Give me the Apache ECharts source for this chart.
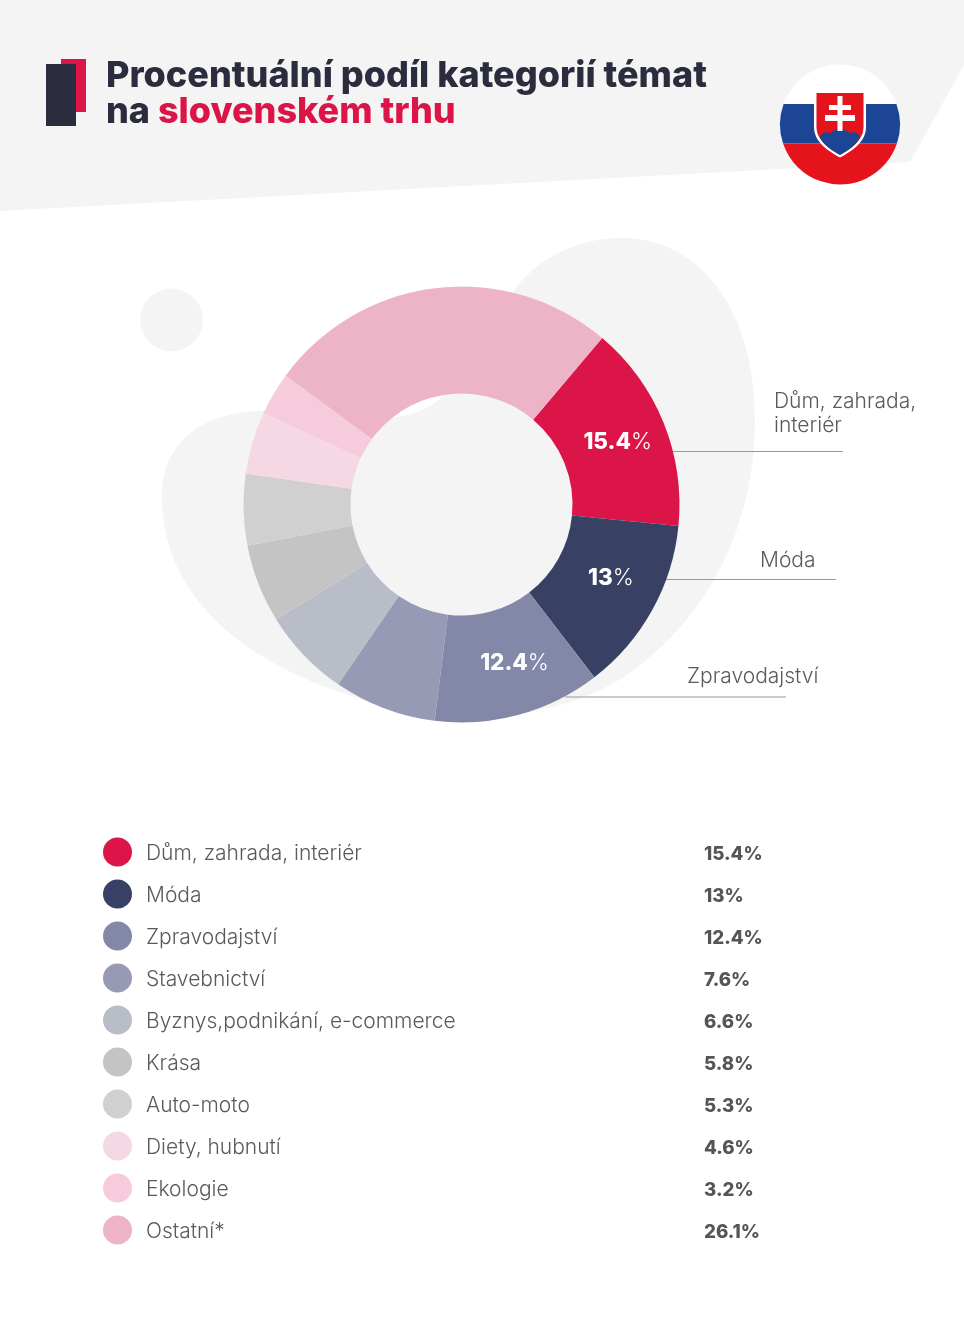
<!DOCTYPE html>
<html lang="cs"><head><meta charset="utf-8">
<style>html,body{margin:0;padding:0;background:#fff}#c{width:964px;height:1333px}</style>
<script src="https://cdn.jsdelivr.net/npm/echarts@6/dist/echarts.min.js"></script>
</head><body><div id="c"></div>
<script>
const categories = ['Dům, zahrada, interiér','Móda','Zpravodajství','Stavebnictví','Byznys,podnikání, e-commerce','Krása','Auto-moto','Diety, hubnutí','Ekologie','Ostatní*'];
const values = [15.4,13,12.4,7.6,6.6,5.8,5.3,4.6,3.2,26.1];
const colors = ['#dc1549','#384164','#8388a8','#969ab5','#b8bdc7','#c4c4c4','#d0d0d0','#f6d8e4','#f6ccdc','#edb3c7'];
const labelledCount = 3;
const labelNudge = [[1,1],[3,-8],[9,-3]];
const titleLine1 = 'Procentuální podíl kategorií témat';
const titleLine2a = 'na ';
const titleLine2b = 'slovenském trhu';
const FONT = 'Inter';

const chart = echarts.init(document.getElementById('c'), null, {renderer:'canvas'});
const valueOf = Object.fromEntries(categories.map((c,i)=>[c,values[i]]));

let pathId = 0;
function pathEl(d,fill,z){
  const name='p'+(pathId++);
  echarts.graphic.registerShape(name, echarts.graphic.extendPath(d,{}));
  return {type:name,z:z||0,style:{fill}};
}
function callout(text,x,y,x1,x2,ly){
  return [
    {type:'line',shape:{x1,y1:ly,x2,y2:ly},style:{stroke:'#9a9a9a',lineWidth:1}},
    {type:'text',x,y,style:{text,font:'300 21px '+FONT,fill:'#5a5a5a',textAlign:'left',lineHeight:24,textVerticalAlign:'top'}}
  ];
}

chart.setOption({
  animation:false,
  backgroundColor:'#fff',
  title:{
    left:106,top:58,padding:0,
    text:titleLine1+'\n'+titleLine2a+'{r|'+titleLine2b+'}',
    textStyle:{fontFamily:FONT,fontWeight:800,fontSize:36,lineHeight:36,color:'#2b2d3e',
      rich:{r:{fontFamily:FONT,fontWeight:800,fontSize:36,lineHeight:36,color:'#dc1549'}}}
  },
  legend:{
    orient:'vertical',left:103,top:837.5,padding:0,
    icon:'circle',itemWidth:29,itemHeight:29,itemGap:13,
    selectedMode:false,
    data:categories,
    formatter:n=>'{n|'+n+'}{v|'+valueOf[n]+'%}',
    textStyle:{rich:{
      n:{fontFamily:FONT,fontWeight:300,fontSize:21,color:'#5a5a5a',width:558,padding:[4,0,0,9]},
      v:{fontFamily:FONT,fontWeight:800,fontSize:18.7,color:'#555555',padding:[4,0,0,0]}
    }}
  },
  series:[{
    type:'pie',center:[461.5,504.5],radius:[111,218],startAngle:49.8,clockwise:true,
    label:{show:true,position:'inside',
      formatter:p=>p.dataIndex<labelledCount?'{b|'+p.value+'}{l|%}':'',
      rich:{
        b:{fontFamily:FONT,fontWeight:800,fontSize:22.5,color:'#fff'},
        l:{fontFamily:FONT,fontWeight:300,fontSize:22.5,color:'#fff'}
      }},
    labelLayout:p=>{const n=labelNudge[p.dataIndex];return n?{dx:n[0],dy:n[1]}:{};},
    labelLine:{show:false},
    emphasis:{disabled:true},
    itemStyle:{borderWidth:0},
    data:categories.map((name,i)=>({name,value:values[i],itemStyle:{color:colors[i]}}))
  }],
  graphic:[
    {type:'polygon',z:-10,shape:{points:[[0,0],[964,0],[964,65],[910,162],[0,211]]},style:{fill:'#f4f4f4'}},
    pathEl('M162,497 C162,440 205,411 265,411 C320,411 360,420 395,417 C412,416 430,408 442,397 C470,370 490,325 513,292 C535,260 575,238 622,238 C700,238 755,310 755,420 C755,530 705,615 640,665 C560,730 430,725 355,697 C250,665 162,600 162,497 Z','#f4f4f4',-10),
    {type:'circle',z:-10,shape:{cx:171.5,cy:320,r:31.5},style:{fill:'#f4f4f4'}},
    {type:'rect',z:-5,shape:{x:61,y:59,width:25,height:53},style:{fill:'#dc1549'}},
    {type:'rect',z:-4,shape:{x:46,y:64,width:30,height:62},style:{fill:'#2b2d3e'}},
    // flag
    pathEl('M783.6,104 A60,60 0 0 1 896.4,104 Z','#ffffff'),
    pathEl('M783.6,104 L896.4,104 A60,60 0 0 1 896.9,143.5 L783.1,143.5 A60,60 0 0 1 783.6,104 Z','#1c4595'),
    pathEl('M896.9,143.5 A60,60 0 0 1 783.1,143.5 Z','#e5131b'),
    pathEl('M814,93 L814,127 C814,142 828,151 840,157.5 C852,151 866,142 866,127 L866,93 Z','#ffffff'),
    pathEl('M816.5,93 L816.5,127 C816.5,140 829,149 840,155 C851,149 863.5,140 863.5,127 L863.5,93 Z','#e5131b'),
    pathEl('M820,138 C821,132 828,131 830,134 C832,128 848,128 850,134 C852,131 859,132 860,138 C855,146 848,150.6 840,155 C832,150.6 825,146 820,138 Z','#1c4595'),
    pathEl('M837.5,96 H842.5 V105 H851 V110 H842.5 V115 H855 V121 H842.5 V131 H837.5 V121 H825 V115 H837.5 V110 H829 V105 H837.5 Z','#ffffff'),
    ...callout('Dům, zahrada,\ninteriér',774,390,672,843,451.5),
    ...callout('Móda',760,549,666,836,579.5),
    ...callout('Zpravodajství',687,665,565,786,697)
  ]
});
</script></body></html>
